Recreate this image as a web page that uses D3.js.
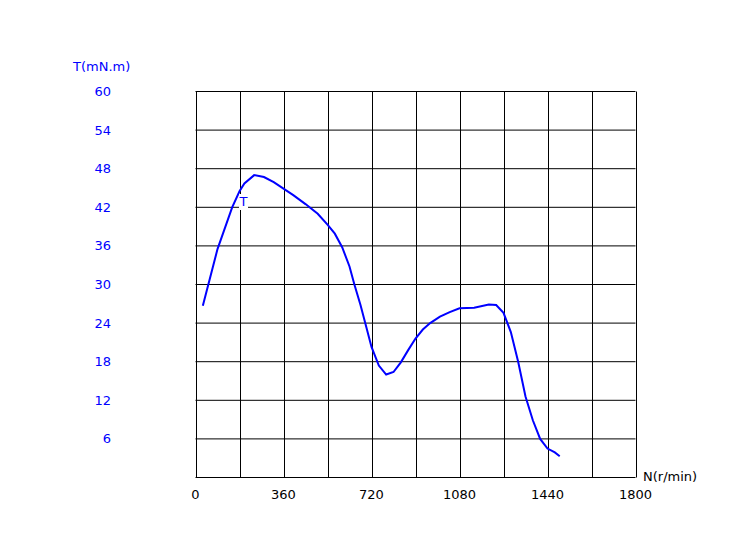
<!DOCTYPE html>
<html><head><meta charset="utf-8">
<script src="https://cdn.jsdelivr.net/npm/d3@7"></script>
<style>body{margin:0;background:#fff}svg{display:block}text{font-family:"DejaVu Sans",Verdana,sans-serif;font-size:13px}</style>
</head><body>
<svg id="c" width="750" height="538"></svg>
<script>
const speedN = [30, 90, 150, 180, 200, 240, 280, 320, 360, 400, 450, 500, 540, 570, 600, 630, 650, 675, 700, 720, 750, 780, 810, 840, 870, 900, 930, 960, 1000, 1040, 1080, 1140, 1200, 1230, 1260, 1290, 1320, 1350, 1380, 1410, 1440, 1470, 1490];
const torqueT = [26.7, 35.5, 42, 44.5, 45.7, 47, 46.7, 45.9, 44.9, 43.9, 42.5, 41.0, 39.3, 37.9, 35.8, 32.8, 30.0, 26.8, 23.2, 20.3, 17.4, 16.0, 16.4, 17.9, 19.8, 21.6, 23.0, 24.0, 25.0, 25.7, 26.3, 26.4, 26.9, 26.8, 25.6, 22.6, 18.0, 12.6, 8.9, 6.0, 4.5, 3.9, 3.3];
const xTickLabels = [0, 360, 720, 1080, 1440, 1800];
const xGrid = [0,180,360,540,720,900,1080,1260,1440,1620,1800];
const yTickLabels = [6,12,18,24,30,36,42,48,54,60];
const yGrid = [0,6,12,18,24,30,36,42,48,54,60];

const svg = d3.select("#c");
const x = d3.scaleLinear().domain([0,1800]).range([195.5,635.5]);
const y = d3.scaleLinear().domain([0,60]).range([477.5,91.5]);

const g = svg.append("g");
g.selectAll("line.v").data(xGrid).join("line")
  .attr("x1",d=>Math.round(x(d))+0.5).attr("x2",d=>Math.round(x(d))+0.5)
  .attr("y1",y(0)).attr("y2",y(60)).attr("stroke","#000").attr("stroke-width",1);
g.selectAll("line.h").data(yGrid).join("line")
  .attr("y1",d=>y(d)).attr("y2",d=>y(d))
  .attr("x1",x(0)).attr("x2",x(1800)).attr("stroke","#000").attr("stroke-width",1);

svg.selectAll("text.yl").data(yTickLabels).join("text")
  .attr("x",111).attr("y",d=>y(d)).attr("dy","0.35em").attr("text-anchor","end")
  .attr("fill","#0000ff").text(d=>d);
svg.selectAll("text.xl").data(xTickLabels).join("text")
  .attr("x",d=>x(d)).attr("y",494).attr("dy","0.35em").attr("text-anchor","middle")
  .attr("fill","#000").text(d=>d);

svg.append("text").attr("x",73).attr("y",66).attr("dy","0.35em").attr("fill","#0000ff").text("T(mN.m)");
svg.append("text").attr("x",643).attr("y",476).attr("dy","0.35em").attr("fill","#000").text("N(r/min)");

const pts = speedN.map((n,i)=>[n,torqueT[i]]);
svg.append("path").datum(pts)
  .attr("d", d3.line().x(d=>x(d[0])).y(d=>y(d[1])))
  .attr("fill","none").attr("stroke","#0000ff").attr("stroke-width",2);

// curve label
svg.append("rect").attr("x",239).attr("y",194).attr("width",9).attr("height",16).attr("fill","#fff");
svg.append("text").attr("x",243.5).attr("y",201.5).attr("dy","0.35em").attr("text-anchor","middle")
  .attr("fill","#0000ff").text("T");
</script>
</body></html>
